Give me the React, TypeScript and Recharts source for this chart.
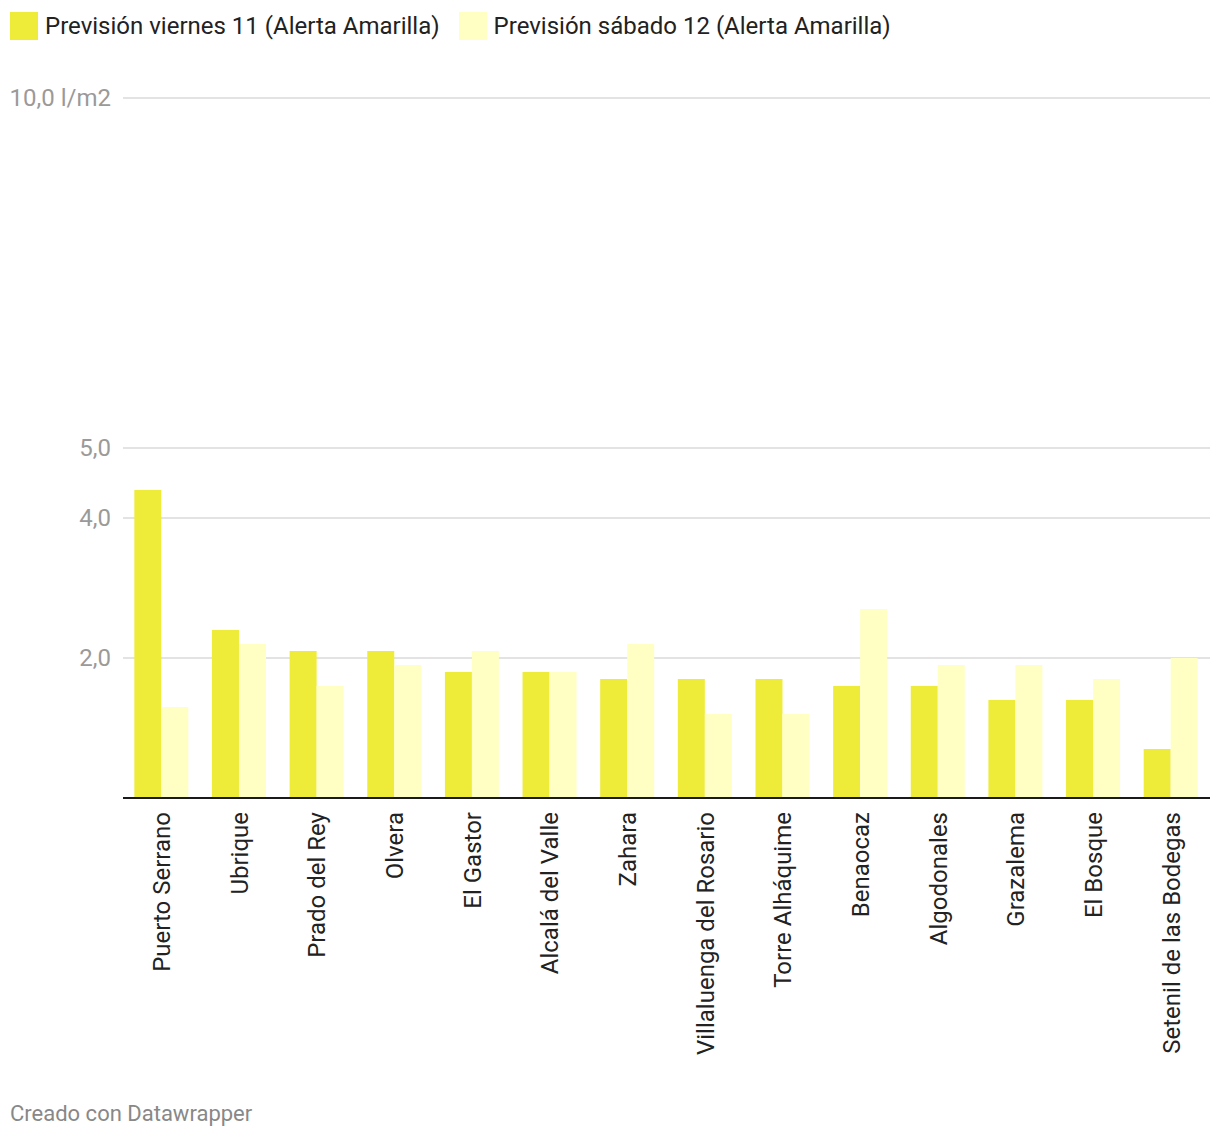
import { Bar, BarChart, CartesianGrid, XAxis, YAxis } from 'recharts';

const municipios = [
  'Puerto Serrano',
  'Ubrique',
  'Prado del Rey',
  'Olvera',
  'El Gastor',
  'Alcalá del Valle',
  'Zahara',
  'Villaluenga del Rosario',
  'Torre Alháquime',
  'Benaocaz',
  'Algodonales',
  'Grazalema',
  'El Bosque',
  'Setenil de las Bodegas',
];
const viernes = [4.4, 2.4, 2.1, 2.1, 1.8, 1.8, 1.7, 1.7, 1.7, 1.6, 1.6, 1.4, 1.4, 0.7];
const sabado = [1.3, 2.2, 1.6, 1.9, 2.1, 1.8, 2.2, 1.2, 1.2, 2.7, 1.9, 1.9, 1.7, 2.0];
const yTicks = [2, 4, 5, 10];

const seriesNames = ['Previsión viernes 11 (Alerta Amarilla)', 'Previsión sábado 12 (Alerta Amarilla)'];
const colors = ['#eeec39', '#ffffc4'];

const data = municipios.map((name, i) => ({ name, viernes: viernes[i], sabado: sabado[i] }));

const font = 'Roboto, "Noto Sans", sans-serif';

function YTick({ x, y, payload }: any) {
  const v = payload.value as number;
  const label = v.toFixed(1).replace('.', ',') + (v === 10 ? ' l/m2' : '');
  return (
    <text x={x} y={y} dy="0.35em" textAnchor="end" fill="#9a9a9a" fontSize={24} fontFamily={font}>
      {label}
    </text>
  );
}

function XTick({ x, y, payload }: any) {
  const ty = y + 6;
  return (
    <text
      x={x}
      y={ty}
      dy="0.35em"
      textAnchor="end"
      transform={`rotate(-90 ${x} ${ty})`}
      fill="#222"
      fontSize={24}
      fontFamily={font}
    >
      {payload.value}
    </text>
  );
}

function App() {
  return (
    <div style={{ position: 'absolute', left: 0, top: 0, width: 1220, height: 1138, background: '#fff', fontFamily: font }}>
      <div style={{ position: 'absolute', left: 10, top: 12, display: 'flex', alignItems: 'center', fontSize: 24, color: '#222', lineHeight: '28px' }}>
        {seriesNames.map((n, i) => (
          <div key={n} style={{ display: 'flex', alignItems: 'center', marginRight: 19 }}>
            <span style={{ width: 28, height: 28, background: colors[i], display: 'inline-block', marginRight: 7 }} />
            <span>{n}</span>
          </div>
        ))}
      </div>
      <div style={{ position: 'absolute', left: 0, top: 0 }}>
        <BarChart
          width={1220}
          height={1070}
          data={data}
          margin={{ top: 98, right: 10, bottom: 0, left: 0 }}
          barCategoryGap="14.6%"
          barGap={0}
        >
          <CartesianGrid horizontal vertical={false} stroke="#e3e3e3" strokeWidth={2} />
          <YAxis
            width={123}
            domain={[0, 10]}
            ticks={yTicks}
            interval={0}
            axisLine={false}
            tickLine={false}
            tick={<YTick />}
            tickSize={0}
            tickMargin={12}
          />
          <XAxis
            dataKey="name"
            height={272}
            interval={0}
            tickLine={false}
            axisLine={{ stroke: '#1a1a1a', strokeWidth: 2 }}
            tick={<XTick />}
          />
          <Bar dataKey="viernes" name={seriesNames[0]} fill={colors[0]} isAnimationActive={false} />
          <Bar dataKey="sabado" name={seriesNames[1]} fill={colors[1]} isAnimationActive={false} />
        </BarChart>
      </div>
      <div style={{ position: 'absolute', left: 10, top: 1101, fontSize: 22, color: '#888' }}>Creado con Datawrapper</div>
    </div>
  );
}

export default App;
